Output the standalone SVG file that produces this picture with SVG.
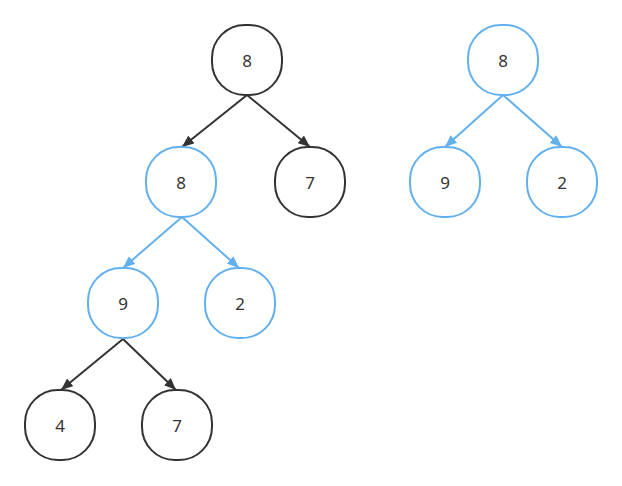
<svg xmlns="http://www.w3.org/2000/svg" width="622" height="486" viewBox="0 0 622 486">
<defs>
<style>
.n rect{fill:#fff;stroke-width:2}
.k rect{stroke:#333}
.b rect{stroke:#62b0ee}
.n text{font-family:"Noto Sans","Open Sans",sans-serif;font-size:17px;fill:#333;text-anchor:middle;dominant-baseline:central}
.e{fill:none;stroke-width:2}
.ek{stroke:#333}
.eb{stroke:#62b0ee}
</style>
<marker id="ak" viewBox="0 0 12 10" refX="12" refY="5" markerWidth="12" markerHeight="10" markerUnits="userSpaceOnUse" orient="auto"><path d="M0,0 L12,5 L0,10 Z" fill="#333"/></marker>
<marker id="ab" viewBox="0 0 12 10" refX="12" refY="5" markerWidth="12" markerHeight="10" markerUnits="userSpaceOnUse" orient="auto"><path d="M0,0 L12,5 L0,10 Z" fill="#62b0ee"/></marker>
</defs>
<rect width="622" height="486" fill="#fff"/>
<g id="edges">
<path class="e ek" d="M247,95 L182,147" marker-end="url(#ak)"/>
<path class="e ek" d="M247,95 L310,147" marker-end="url(#ak)"/>
<path class="e eb" d="M182,217 L123,268" marker-end="url(#ab)"/>
<path class="e eb" d="M182,217 L239,268" marker-end="url(#ab)"/>
<path class="e ek" d="M123,339 L61,390" marker-end="url(#ak)"/>
<path class="e ek" d="M123,339 L176,390" marker-end="url(#ak)"/>
<path class="e eb" d="M503,95 L445,147" marker-end="url(#ab)"/>
<path class="e eb" d="M503,95 L562,147" marker-end="url(#ab)"/>
</g>
<g id="n1" class="n k"><rect x="212" y="25" width="70" height="70" rx="33"/><text x="247" y="60">8</text></g>
<g id="n2" class="n b"><rect x="146" y="147" width="70" height="70" rx="33"/><text x="181" y="182">8</text></g>
<g id="n3" class="n k"><rect x="275" y="147" width="70" height="70" rx="33"/><text x="310" y="182">7</text></g>
<g id="n4" class="n b"><rect x="88" y="268" width="70" height="70" rx="33"/><text x="123" y="303">9</text></g>
<g id="n5" class="n b"><rect x="205" y="268" width="70" height="70" rx="33"/><text x="240" y="303">2</text></g>
<g id="n6" class="n k"><rect x="25" y="390" width="70" height="70" rx="33"/><text x="60" y="425">4</text></g>
<g id="n7" class="n k"><rect x="142" y="390" width="70" height="70" rx="33"/><text x="177" y="425">7</text></g>
<g id="n8" class="n b"><rect x="468" y="25" width="70" height="70" rx="33"/><text x="503" y="60">8</text></g>
<g id="n9" class="n b"><rect x="410" y="147" width="70" height="70" rx="33"/><text x="445" y="182">9</text></g>
<g id="n10" class="n b"><rect x="527" y="147" width="70" height="70" rx="33"/><text x="562" y="182">2</text></g>
</svg>
